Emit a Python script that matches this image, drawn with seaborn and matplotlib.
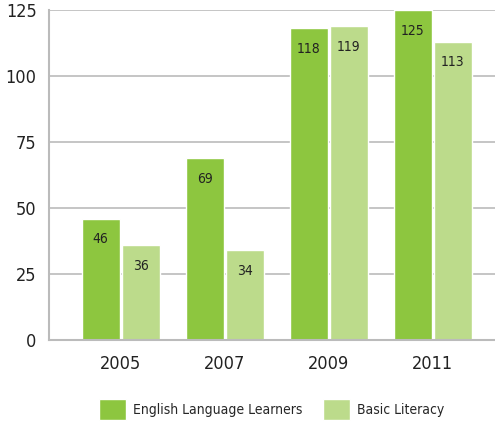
import matplotlib
matplotlib.use("Agg")
import matplotlib.pyplot as plt
import seaborn as sns
import pandas as pd

years = ["2005", "2007", "2009", "2011"]
english_learners = [46, 69, 118, 125]
basic_literacy = [36, 34, 119, 113]
series_names = ["English Language Learners", "Basic Literacy"]
y_ticks = [0, 25, 50, 75, 100, 125]

df = pd.DataFrame({
    "Year": years * 2,
    "Count": english_learners + basic_literacy,
    "Program": [series_names[0]] * 4 + [series_names[1]] * 4,
})

sns.set_style("white")
plt.rcParams["font.family"] = ["DejaVu Sans"]
plt.rcParams["font.stretch"] = "condensed"

fig = plt.figure(figsize=(4.95, 4.22), dpi=100)
ax = fig.add_axes([49 / 495, 1 - 340 / 422, 446 / 495, 330 / 422])

sns.barplot(data=df, x="Year", y="Count", hue="Program", order=years,
            palette=["#8dc63f", "#bcdb8b"], width=0.77, gap=0.05,
            saturation=1, ax=ax, legend=True)

for c in ax.containers:
    ax.bar_label(c, padding=-20, fontsize=10, color="#222222")

ax.set_ylim(0, 125)
ax.set_xlim(-0.69, 3.6)
ax.set_yticks(y_ticks)
ax.yaxis.grid(True, color="#bbbbbb", linewidth=1.2)
ax.set_axisbelow(True)
ax.tick_params(axis="both", length=0, labelsize=13, colors="#222222")
ax.tick_params(axis="y", pad=9)
ax.tick_params(axis="x", pad=11)
ax.set_xlabel("")
ax.set_ylabel("")
for s in ["top", "right"]:
    ax.spines[s].set_visible(False)
for s in ["left", "bottom"]:
    ax.spines[s].set_color("#bbbbbb")
    ax.spines[s].set_linewidth(1.5)

handles, labels = ax.get_legend_handles_labels()
ax.get_legend().remove()
fig.legend(handles, labels, loc="lower left", bbox_to_anchor=(86 / 495, -0.025),
           ncol=2, frameon=False, fontsize=10, handlelength=1.95,
           handleheight=1.95, handletextpad=0.5, columnspacing=1.5)

fig.savefig("out.png", dpi=100)
